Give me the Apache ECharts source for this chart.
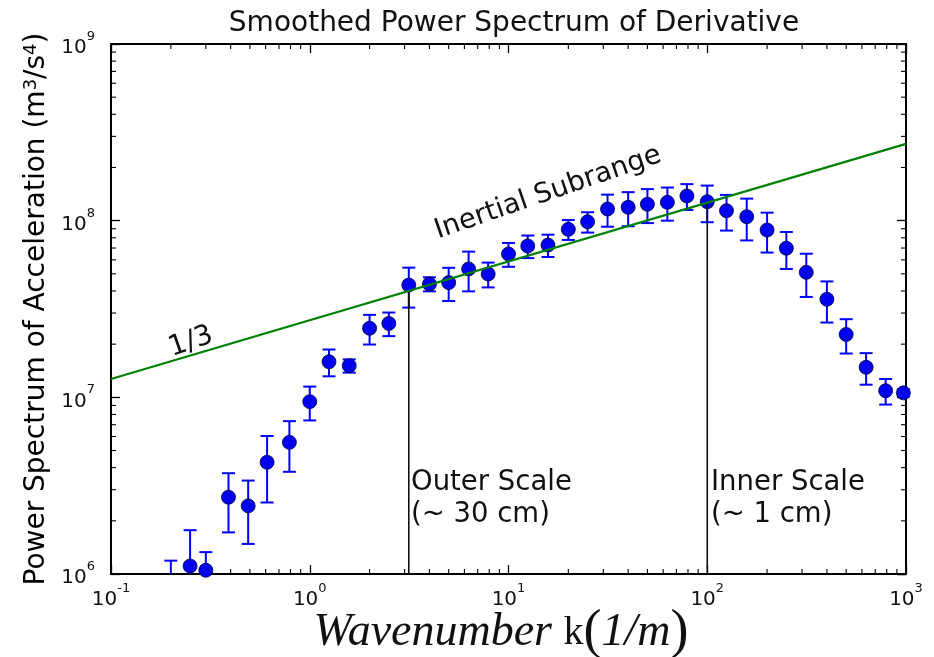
<!DOCTYPE html>
<html>
<head>
<meta charset="utf-8">
<script src="https://cdn.jsdelivr.net/npm/echarts@6/dist/echarts.min.js"></script>
<style>
  html, body { margin: 0; padding: 0; background: #ffffff; }
  #chart { width: 934px; height: 657px; }
</style>
</head>
<body>
<div id="chart"></div>
<script>
// Smoothed power spectrum of the acceleration signal, with 1-sigma error bars
const wavenumber = [0.2, 0.25, 0.3, 0.39, 0.49, 0.61, 0.79, 1.0, 1.25, 1.58, 2.0, 2.5,
  3.15, 4.0, 5.0, 6.3, 7.9, 10, 12.5, 15.8, 20, 25, 31.5, 40, 50, 63, 79, 100,
  125, 158, 200, 250, 315, 400, 500, 630, 790, 970];
const power = [0.8e6, 1.11e6, 1.05e6, 2.72e6, 2.43e6, 4.29e6, 5.56e6, 9.45e6, 1.59e7, 1.51e7, 2.46e7, 2.62e7,
  4.32e7, 4.38e7, 4.46e7, 5.33e7, 4.99e7, 6.48e7, 7.19e7, 7.28e7, 8.93e7, 9.86e7, 1.164e8, 1.19e8, 1.239e8, 1.27e8, 1.38e8, 1.28e8,
  1.139e8, 1.053e8, 8.85e7, 6.98e7, 5.1e7, 3.59e7, 2.27e7, 1.479e7, 1.09e7, 1.06e7];
const powerErr = [0.39e6, 0.66e6, 0.28e6, 1.0e6, 0.95e6, 1.75e6, 1.77e6, 2.05e6, 2.75e6, 1.3e6, 4.7e6, 4.0e6,
  1.1e7, 4.0e6, 9.5e6, 1.35e7, 8.0e6, 1.0e7, 1.05e7, 1.05e7, 1.15e7, 1.3e7, 2.4e7, 2.6e7, 2.7e7, 2.7e7, 2.3e7, 3.0e7,
  2.6e7, 2.8e7, 2.25e7, 1.65e7, 1.4e7, 9.4e6, 5.0e6, 3.0e6, 1.8e6, 0.5e6];

// k^(1/3) inertial-subrange reference line (end points)
const inertialLine = [[0.1, 1.27e7], [1000, 2.72e8]];
// Outer / inner scale markers: from the bottom of the plot up to the reference line
const outerScaleLine = [[3.15, 1e6], [3.15, 4.0e7]];
const innerScaleLine = [[100, 1e6], [100, 1.265e8]];

// Axis ranges
const xRange = [0.1, 1000];
const yRange = [1e6, 1e9];

const FONT = '"DejaVu Sans", Verdana, sans-serif';

// Minor tick positions (2..9 x 10^n) inside each decade
const xMinor = [];
for (let e = -1; e < 3; e++) for (let m = 2; m <= 9; m++) xMinor.push(m * Math.pow(10, e));
const yMinor = [];
for (let e = 6; e < 9; e++) for (let m = 2; m <= 9; m++) yMinor.push(m * Math.pow(10, e));

const chart = echarts.init(document.getElementById('chart'));

function powLabel(v) {
  const e = Math.round(Math.log10(v));
  return '{b|10}{s|' + e + '}';
}
const tickRich = {
  b: { fontFamily: FONT, fontSize: 20, color: '#111', lineHeight: 28, verticalAlign: 'bottom' },
  s: { fontFamily: FONT, fontSize: 13, color: '#111', verticalAlign: 'top' }
};

const axisLineStyle = { color: '#000', width: 2 };
const majorTick = { inside: true, length: 9, lineStyle: { color: '#000', width: 1.3 } };

const xBase = {
  type: 'log', logBase: 10, min: xRange[0], max: xRange[1],
  splitLine: { show: false },
  axisLine: { onZero: false, lineStyle: axisLineStyle },
  axisTick: majorTick
};
const yBase = {
  type: 'log', logBase: 10, min: yRange[0], max: yRange[1],
  splitLine: { show: false },
  axisLine: { onZero: false, lineStyle: axisLineStyle },
  axisTick: majorTick
};

const errorData = wavenumber.map((k, i) => [k, power[i] - powerErr[i], power[i] + powerErr[i]]);
const pointData = wavenumber.map((k, i) => [k, power[i]]);
const minorData = xMinor.map(v => [v, 1e7, 0]).concat(yMinor.map(v => [1, v, 1]));

chart.setOption({
  animation: false,
  backgroundColor: '#ffffff',
  title: {
    text: 'Smoothed Power Spectrum of Derivative',
    left: 509, top: 5, textAlign: 'center',
    textStyle: { fontFamily: FONT, fontSize: 28, fontWeight: 'normal', color: '#111' }
  },
  grid: { left: 111, right: 28, top: 44, bottom: 83, containLabel: false },
  xAxis: [
    Object.assign({}, xBase, {
      position: 'bottom',
      axisLabel: { formatter: powLabel, rich: tickRich, margin: 8 }
    }),
    Object.assign({}, xBase, { position: 'top', axisLabel: { show: false } })
  ],
  yAxis: [
    Object.assign({}, yBase, {
      position: 'left',
      axisLabel: { formatter: powLabel, rich: tickRich, margin: 16 },
      name: 'Power Spectrum of Acceleration (m{sup|3}/s{sup|4})',
      nameLocation: 'middle', nameGap: 57, nameRotate: 90,
      nameTextStyle: {
        fontFamily: FONT, fontSize: 28, color: '#000',
        rich: { sup: { fontFamily: FONT, fontSize: 18, verticalAlign: 'top', color: '#000' } }
      }
    }),
    Object.assign({}, yBase, { position: 'right', axisLabel: { show: false } })
  ],
  series: [
    {
      // minor ticks on all four sides
      type: 'custom', xAxisIndex: 0, yAxisIndex: 0, silent: true, z: 1,
      data: minorData,
      renderItem(params, api) {
        const cs = params.coordSys;
        const len = 5;
        const style = { stroke: '#000', lineWidth: 1.1 };
        if (api.value(2) === 0) {
          const x = api.coord([api.value(0), 1e7])[0];
          return { type: 'group', children: [
            { type: 'line', shape: { x1: x, y1: cs.y + cs.height, x2: x, y2: cs.y + cs.height - len }, style },
            { type: 'line', shape: { x1: x, y1: cs.y, x2: x, y2: cs.y + len }, style }
          ] };
        }
        const y = api.coord([1, api.value(1)])[1];
        return { type: 'group', children: [
          { type: 'line', shape: { x1: cs.x, y1: y, x2: cs.x + len, y2: y }, style },
          { type: 'line', shape: { x1: cs.x + cs.width, y1: y, x2: cs.x + cs.width - len, y2: y }, style }
        ] };
      }
    },
    {
      // error bars with caps
      type: 'custom', xAxisIndex: 0, yAxisIndex: 0, silent: true, z: 3,
      data: errorData,
      renderItem(params, api) {
        const cs = params.coordSys;
        const bottom = cs.y + cs.height;
        const pLo = api.coord([api.value(0), api.value(1)]);
        const pHi = api.coord([api.value(0), api.value(2)]);
        const x = pHi[0];
        const yHi = Math.max(pHi[1], cs.y);
        const yLo = Math.min(pLo[1], bottom);
        const half = 6.5;
        const style = { stroke: '#0000ff', lineWidth: 2 };
        const children = [{ type: 'line', shape: { x1: x, y1: yHi, x2: x, y2: yLo }, style }];
        if (pHi[1] >= cs.y && pHi[1] <= bottom) {
          children.push({ type: 'line', shape: { x1: x - half, y1: pHi[1], x2: x + half, y2: pHi[1] }, style });
        }
        if (pLo[1] <= bottom && pLo[1] >= cs.y) {
          children.push({ type: 'line', shape: { x1: x - half, y1: pLo[1], x2: x + half, y2: pLo[1] }, style });
        }
        return { type: 'group', children };
      }
    },
    {
      type: 'scatter', data: pointData, symbol: 'circle', symbolSize: 14, z: 4, clip: true,
      itemStyle: { color: '#0000f0', borderColor: '#000033', borderWidth: 0.8, opacity: 1 }
    },
    {
      type: 'line', data: outerScaleLine, symbol: 'none', z: 5,
      lineStyle: { color: '#111', width: 1.6 }
    },
    {
      type: 'line', data: innerScaleLine, symbol: 'none', z: 5,
      lineStyle: { color: '#111', width: 1.6 }
    },
    {
      type: 'line', data: inertialLine, symbol: 'none', z: 6,
      lineStyle: { color: '#008000', width: 2.2 }
    }
  ],
  graphic: [
    {
      type: 'text', x: 548, y: 193, rotation: 19 * Math.PI / 180, z: 10,
      style: { text: 'Inertial Subrange', fontFamily: FONT, fontSize: 27.5, fill: '#111', align: 'center', verticalAlign: 'middle' }
    },
    {
      type: 'text', x: 191, y: 342, rotation: 19 * Math.PI / 180, z: 10,
      style: { text: '1/3', fontFamily: FONT, fontSize: 28, fill: '#111', align: 'center', verticalAlign: 'middle' }
    },
    {
      type: 'text', x: 411, y: 467, z: 10,
      style: { text: 'Outer Scale\n(~ 30 cm)', fontFamily: FONT, fontSize: 27.5, lineHeight: 32, fill: '#111', align: 'left', verticalAlign: 'top' }
    },
    {
      type: 'text', x: 711, y: 467, z: 10,
      style: { text: 'Inner Scale\n(~ 1 cm)', fontFamily: FONT, fontSize: 27.5, lineHeight: 32, fill: '#111', align: 'left', verticalAlign: 'top' }
    },
    {
      type: 'text', x: 501, y: 633, z: 10,
      style: {
        text: '{it|Wavenumber }{rm|k}{par|(}{it|1/m}{par|)}',
        align: 'center', verticalAlign: 'middle', fill: '#111',
        rich: {
          it: { fontFamily: '"Liberation Serif", "Times New Roman", serif', fontStyle: 'italic', fontSize: 46, fill: '#111' },
          rm: { fontFamily: '"Liberation Serif", "Times New Roman", serif', fontSize: 40, fill: '#111' },
          par: { fontFamily: '"Liberation Serif", "Times New Roman", serif', fontSize: 54, fill: '#111' }
        }
      }
    }
  ]
});
</script>
</body>
</html>
